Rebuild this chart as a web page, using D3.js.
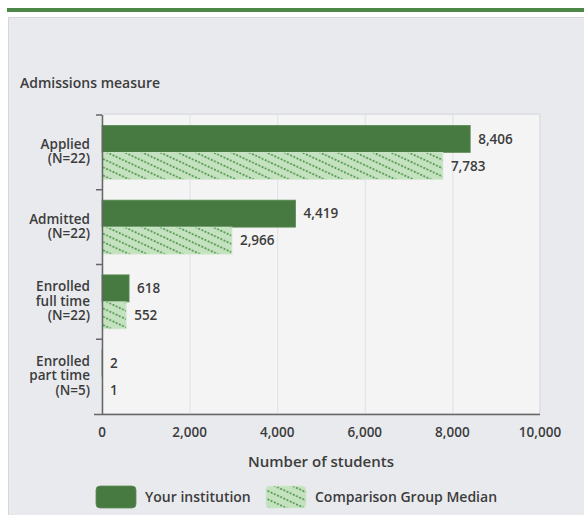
<!DOCTYPE html>
<html>
<head>
<meta charset="utf-8">
<script src="https://cdn.jsdelivr.net/npm/d3@7"></script>
<style>
  body { margin: 0; background: #fff; }
  svg { display: block; font-family: "Open Sans", "Liberation Sans", Arial, sans-serif; }
</style>
</head>
<body>
<svg id="chart" width="584" height="515"></svg>
<script>
(function() {

  // Data
  var categories = ['Applied', 'Admitted', 'Enrolled full time', 'Enrolled part time'];
  var categoryLabels = [
    ['Applied', '(N=22)'],
    ['Admitted', '(N=22)'],
    ['Enrolled', 'full time', '(N=22)'],
    ['Enrolled', 'part time', '(N=5)']
  ];
  var seriesNames = ['Your institution', 'Comparison Group Median'];
  var institution = [8406, 4419, 618, 2];
  var comparison = [7783, 2966, 552, 1];
  var xTicks = [0, 2000, 4000, 6000, 8000, 10000];

  // Design
  var plot = {left: 102, right: 540, top: 115, bottom: 414};
  var darkGreen = '#467a40';
  var lightGreen = '#c4e2c0';
  var textColor = '#3c3c3c';
  var weight = 600;

  var svg = d3.select('#chart');

  // pattern for comparison bars
  var defs = svg.append('defs');
  var pat = defs.append('pattern')
      .attr('id', 'hatch')
      .attr('patternUnits', 'userSpaceOnUse')
      .attr('width', 14)
      .attr('height', 7.5)
      .attr('patternTransform', 'rotate(25)');
  pat.append('rect').attr('width', 14).attr('height', 7.5).attr('fill', lightGreen);
  pat.append('line')
      .attr('x1', 0).attr('x2', 14).attr('y1', 3.75).attr('y2', 3.75)
      .attr('stroke', '#52964c')
      .attr('stroke-width', 1.8)
      .attr('stroke-dasharray', '1.8,1.7');

  // page frame
  svg.append('rect').attr('x', 7).attr('y', 8).attr('width', 577).attr('height', 4).attr('fill', '#4c8748');
  svg.append('rect').attr('x', 8.5).attr('y', 17.5).attr('width', 580).attr('height', 510)
      .attr('fill', '#e9eaee').attr('stroke', '#d6d7db');

  svg.append('text')
      .attr('x', 20).attr('y', 83).attr('dy', '0.35em')
      .attr('font-size', 14).attr('font-weight', weight).attr('fill', textColor)
      .text('Admissions measure');

  // Scales
  var x = d3.scaleLinear().domain([0, 10000]).range([plot.left, plot.right]);
  var y = d3.scaleBand().domain(categories).range([plot.top, plot.bottom]).padding(0);
  var ySub = d3.scaleBand().domain(seriesNames).range([0, y.bandwidth()])
      .paddingInner(0).paddingOuter(0.385);

  // plot background
  svg.append('rect')
      .attr('x', plot.left).attr('y', plot.top - 1)
      .attr('width', plot.right - plot.left).attr('height', plot.bottom - plot.top + 1)
      .attr('fill', '#f4f4f4')
      .attr('stroke', '#dfe1e6').attr('stroke-width', 2);

  // gridlines
  svg.append('g').selectAll('line')
      .data(xTicks.slice(1, -1))
      .enter().append('line')
      .attr('x1', function(d) { return x(d) + 0.5; })
      .attr('x2', function(d) { return x(d) + 0.5; })
      .attr('y1', plot.top).attr('y2', plot.bottom)
      .attr('stroke', '#dbe1ec');

  // bars
  var groups = svg.append('g').selectAll('g')
      .data(categories)
      .enter().append('g')
      .attr('transform', function(d) { return 'translate(0,' + y(d) + ')'; });

  groups.each(function(cat, i) {
    var g = d3.select(this);
    var vals = [institution[i], comparison[i]];
    seriesNames.forEach(function(s, j) {
      var v = vals[j];
      g.append('rect')
          .attr('x', x(0))
          .attr('y', ySub(s))
          .attr('width', x(v) - x(0))
          .attr('height', ySub.bandwidth())
          .attr('fill', j === 0 ? darkGreen : 'url(#hatch)')
          .attr('stroke', j === 0 ? '#5d8c57' : '#d3e9d0')
          .attr('stroke-width', 0.8);
      g.append('text')
          .attr('x', x(v) + 8)
          .attr('y', ySub(s) + ySub.bandwidth() / 2)
          .attr('dy', '0.35em')
          .attr('font-size', 13.5).attr('font-weight', weight).attr('fill', textColor)
          .text(d3.format(',')(v));
    });
  });

  // y axis
  svg.append('line')
      .attr('x1', plot.left + 0.5).attr('x2', plot.left + 0.5)
      .attr('y1', plot.top).attr('y2', plot.bottom)
      .attr('stroke', '#666').attr('stroke-width', 1.5);
  svg.append('g').selectAll('line')
      .data(categories)
      .enter().append('line')
      .attr('x1', plot.left - 6).attr('x2', plot.left)
      .attr('y1', function(d) { return y(d); })
      .attr('y2', function(d) { return y(d); })
      .attr('stroke', '#666').attr('stroke-width', 1.5);

  // y labels
  svg.append('g').selectAll('text')
      .data(categories)
      .enter().append('text')
      .attr('text-anchor', 'end')
      .attr('font-size', 13.5).attr('font-weight', weight).attr('fill', textColor)
      .each(function(d, i) {
        var lines = categoryLabels[i];
        var lh = 14.6;
        var cy = y(d) + y.bandwidth() / 2 - 1 - (lines.length - 1) * lh / 2;
        d3.select(this).selectAll('tspan')
            .data(lines)
            .enter().append('tspan')
            .attr('x', 90)
            .attr('y', function(l, k) { return cy + k * lh; })
            .attr('dy', '0.35em')
            .text(function(l) { return l; });
      });

  // x axis
  svg.append('line')
      .attr('x1', 94).attr('x2', plot.right)
      .attr('y1', plot.bottom + 0.5).attr('y2', plot.bottom + 0.5)
      .attr('stroke', '#666').attr('stroke-width', 1.5);
  svg.append('g').selectAll('text')
      .data(xTicks)
      .enter().append('text')
      .attr('x', function(d) { return x(d); })
      .attr('y', 432).attr('dy', '0.35em')
      .attr('text-anchor', 'middle')
      .attr('font-size', 13.5).attr('font-weight', weight).attr('fill', textColor)
      .text(function(d) { return d3.format(',')(d); });

  svg.append('text')
      .attr('x', (plot.left + plot.right) / 2).attr('y', 462).attr('dy', '0.35em')
      .attr('text-anchor', 'middle')
      .attr('font-size', 15).attr('font-weight', weight).attr('fill', textColor)
      .text('Number of students');

  // legend
  var legendX = [96, 266];
  var legend = svg.append('g').selectAll('g')
      .data(seriesNames)
      .enter().append('g')
      .attr('transform', function(d, i) { return 'translate(' + legendX[i] + ',486)'; });
  legend.append('rect')
      .attr('width', 40).attr('height', 22).attr('rx', 4)
      .attr('fill', function(d, i) { return i === 0 ? darkGreen : 'url(#hatch)'; })
      .attr('stroke', function(d, i) { return i === 0 ? '#5d8c57' : '#d3e9d0'; })
      .attr('stroke-width', 0.8);
  legend.append('text')
      .attr('x', 49).attr('y', 11).attr('dy', '0.35em')
      .attr('font-size', 14).attr('font-weight', weight).attr('fill', textColor)
      .text(function(d) { return d; });

})();
</script>
</body>
</html>
